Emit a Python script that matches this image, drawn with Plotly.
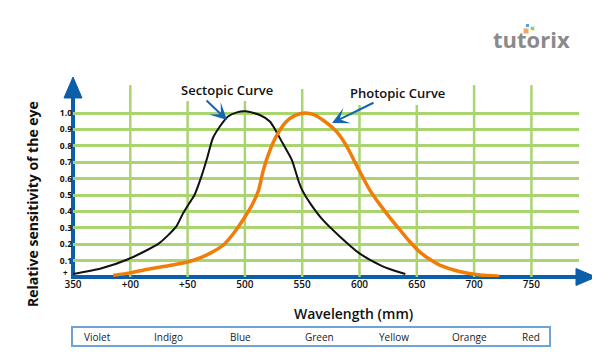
import plotly.graph_objects as go

# ---------------- data ----------------
scot_w = [350, 375, 398, 425, 440, 446, 451, 456, 462, 467, 472, 478, 485, 493, 501,
          513, 522, 533, 541, 547, 550, 557, 568, 583, 600, 618, 630, 640]
scot_v = [0.018, 0.053, 0.108, 0.205, 0.307, 0.388, 0.445, 0.5, 0.612, 0.724, 0.846, 0.916,
          0.977, 1.004, 1.01, 0.988, 0.947, 0.815, 0.713, 0.581, 0.53, 0.449, 0.348, 0.246,
          0.144, 0.073, 0.04, 0.018]

phot_w = [385, 400, 412, 430, 449, 462, 472, 482, 490, 499, 507, 512, 516, 522, 528, 536,
          544, 552, 560, 568, 580, 589, 598, 609, 618, 627, 635, 644, 653, 663, 670, 688,
          705, 722]
phot_v = [0.01, 0.025, 0.043, 0.065, 0.09, 0.12, 0.154, 0.2, 0.265, 0.355, 0.45, 0.53,
          0.65, 0.775, 0.866, 0.947, 0.985, 1.0, 0.99, 0.957, 0.886, 0.795, 0.673, 0.53,
          0.44, 0.358, 0.29, 0.215, 0.15, 0.1, 0.073, 0.032, 0.012, 0.005]

x_ticks = [350, 400, 450, 500, 550, 600, 650, 700, 750]
x_tick_text = ["350", "+00", "+50", "500", "550", "600", "650", "700", "750"]
y_ticks = [0, 0.1, 0.2, 0.3, 0.4, 0.5, 0.6, 0.7, 0.8, 0.9, 1.0]
y_tick_text = ["", "0.1", "0.2", "0.3", "0.4", "0.5", "0.6", "0.7", "0.8", "0.9", "1.0"]
y_zero_label = "+"

bands = ["Violet", "Indigo", "Blue", "Green", "Yellow", "Orange", "Red"]
band_pos = [371, 433, 496, 565, 630, 696, 750]          # label centres (nm)
vgrid_top = [1.17, 1.073, 1.073, 1.146, 1.049, 1.049, 1.17, 1.17]  # top of vertical grid lines

# ---------------- geometry ----------------
OFF = 8                      # default page body margin
W, H = 600, 357              # reference canvas
L, R, T, B = 73, 579, 78, 277
PW, PH = R - L, B - T
XR = [350, 350 + PW / 1.146]
YR = [0, PH / 164.0]

def px_x(p):
    return (p - L) / PW

def px_y(p):
    return (B - p) / PH

BLUE = "#0b5ea8"
GRID = "#a9d46f"
FONT = "Open Sans"

fig = go.Figure()
fig.add_trace(go.Scatter(x=scot_w, y=scot_v, mode="lines",
                         line=dict(color="#111111", width=2, shape="spline", smoothing=0.6),
                         hoverinfo="skip"))
fig.add_trace(go.Scatter(x=phot_w, y=phot_v, mode="lines",
                         line=dict(color="#f07d0a", width=3.5, shape="spline", smoothing=0.6),
                         hoverinfo="skip"))

shapes = []
for xv, top in zip(x_ticks[1:], vgrid_top):
    shapes.append(dict(type="line", xref="x", yref="y", x0=xv, x1=xv, y0=0, y1=top,
                       line=dict(color=GRID, width=2.5), layer="below"))
shapes.append(dict(type="line", xref="paper", yref="paper", x0=0, x1=0,
                   y0=px_y(279), y1=px_y(94), line=dict(color=BLUE, width=4), layer="below"))
shapes.append(dict(type="line", xref="paper", yref="paper", x0=px_x(71), x1=px_x(580),
                   y0=0, y1=0, line=dict(color=BLUE, width=4), layer="below"))

def tri(pts):
    return "M " + " L ".join(f"{px_x(a):.5f},{px_y(b):.5f}" for a, b in pts) + " Z"

shapes.append(dict(type="path", xref="paper", yref="paper",
                   path=tri([(73, 77), (64, 98), (82, 98)]),
                   fillcolor=BLUE, line=dict(color=BLUE, width=1)))
shapes.append(dict(type="path", xref="paper", yref="paper",
                   path=tri([(596, 277), (576, 268.5), (576, 285.5)]),
                   fillcolor=BLUE, line=dict(color=BLUE, width=1)))
shapes.append(dict(type="rect", xref="paper", yref="paper",
                   x0=px_x(72), x1=px_x(550), y0=px_y(327), y1=px_y(346),
                   line=dict(color="#6fa3d6", width=2)))
for (cx, cy, c, s) in [(526, 31, "#f4a36a", 2.5), (527.5, 25.5, "#5aa0e0", 1.5),
                       (532.5, 28.5, "#8fd06a", 1.8)]:
    shapes.append(dict(type="rect", xref="paper", yref="paper",
                       x0=px_x(cx - s), x1=px_x(cx + s), y0=px_y(cy + s), y1=px_y(cy - s),
                       fillcolor=c, line=dict(width=0)))

def txt(x, y, text, size, weight, color="#111111", xref="paper", angle=0):
    return dict(x=x, y=y, xref=xref, yref="paper", text=text, showarrow=False,
                xanchor="center", yanchor="middle", textangle=angle,
                font=dict(family=FONT, size=size, color=color, weight=weight))

ann = []
for name, pos in zip(bands, band_pos):
    ann.append(txt(pos, px_y(337), name, 10, 500, "#222222", xref="x"))
ann.append(txt(px_x(353), px_y(313), "Wavelength (mm)", 14, 600))
ann.append(txt(px_x(32), px_y(204), "Relative sensitivity of the eye", 14, 700, angle=-90))
ann.append(txt(px_x(227), px_y(90), "Sectopic Curve", 13, 600))
ann.append(txt(px_x(397), px_y(93), "Photopic Curve", 13, 600))
ann.append(txt(px_x(531), px_y(39), "tutorix", 22, 700, "#8a8a8a"))
ann.append(txt(px_x(65), px_y(272), y_zero_label, 8, 700))
ann.append(dict(x=484.4, y=0.957, xref="x", yref="y", ax=-22, ay=-21, text="",
                showarrow=True, arrowhead=3, arrowsize=1.4, arrowwidth=2, arrowcolor="#1565b3"))
ann.append(dict(x=576, y=0.939, xref="x", yref="y", ax=43, ay=-21, text="",
                showarrow=True, arrowhead=3, arrowsize=1.4, arrowwidth=2, arrowcolor="#1565b3"))

fig.update_layout(
    width=W - OFF, height=H - OFF,
    margin=dict(l=L - OFF, r=W - R, t=T - OFF, b=H - B, autoexpand=False),
    paper_bgcolor="white", plot_bgcolor="white", showlegend=False,
    shapes=shapes, annotations=ann,
    xaxis=dict(range=XR, tickvals=x_ticks, ticktext=x_tick_text, showgrid=False,
               zeroline=False, showline=False, ticks="",
               tickfont=dict(family=FONT, size=10, color="#111111", weight=600)),
    yaxis=dict(range=YR, tickvals=y_ticks, ticktext=y_tick_text, showgrid=True,
               gridcolor=GRID, gridwidth=2.5, zeroline=False, showline=False, ticks="",
               tickfont=dict(family=FONT, size=8.5, color="#111111", weight=700)),
)
fig.write_html("out.html")
